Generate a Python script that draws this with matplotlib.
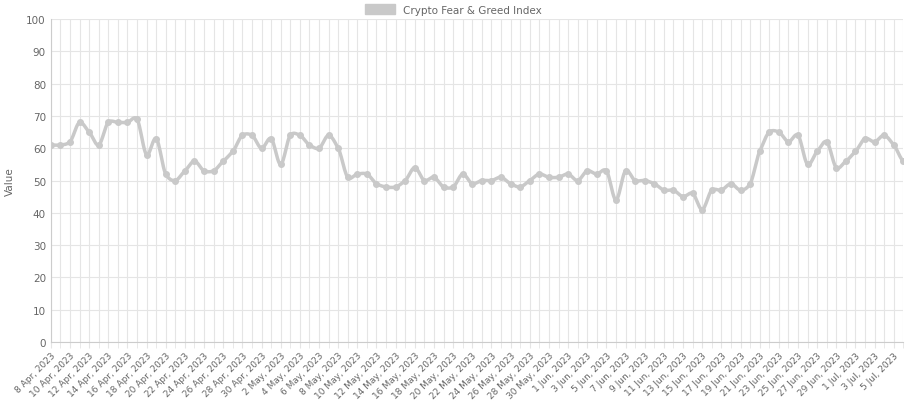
import matplotlib
matplotlib.use("Agg")
import matplotlib.pyplot as plt
import numpy as np
import pandas as pd
from matplotlib.patches import Patch

dates = pd.date_range("2023-04-08", "2023-07-06", freq="D")
values = [61,61,62,68,65,61,68,68,68,69,58,63,52,50,53,56,53,53,56,59,64,64,60,
          63,55,64,64,61,60,64,60,51,52,52,49,48,48,50,54,50,51,48,48,52,49,50,50,51,49,48,50,52,51,51,
          52,50,53,52,53,44,53,50,50,49,47,47,45,46,41,47,47,49,47,49,59,65,65,62,64,55,59,62,54,56,
          59,63,62,64,61,56]
labels = [f"{d.day} {d.strftime('%b')}, {d.year}" for d in dates]
series_name = "Crypto Fear & Greed Index"

x = np.arange(len(values))
y = np.array(values, float)
xs, ys = [], []
for i in range(len(x) - 1):
    p0 = y[max(i-1, 0)]; p1 = y[i]; p2 = y[i+1]; p3 = y[min(i+2, len(y)-1)]
    t = np.linspace(0, 1, 12, endpoint=False)
    tn = 0.8
    m1 = (p2 - p0) / 2 * tn; m2 = (p3 - p1) / 2 * tn
    h00 = 2*t**3 - 3*t**2 + 1; h10 = t**3 - 2*t**2 + t; h01 = -2*t**3 + 3*t**2; h11 = t**3 - t**2
    xs.extend(x[i] + t); ys.extend(h00*p1 + h10*m1 + h01*p2 + h11*m2)
xs.append(x[-1]); ys.append(y[-1])

fig = plt.figure(figsize=(9.07, 4.02), dpi=100)
ax = fig.add_axes([0.056, 0.147, 0.94, 0.803])
c = "#c9c9c9"
ax.plot(xs, ys, color=c, lw=2.5, solid_capstyle="round")
ax.plot(x, y, "o", color=c, ms=4)
ax.set_xlim(0, len(x) - 1)
ax.set_ylim(0, 100)
ax.set_yticks(range(0, 101, 10))
ax.set_xticks(x[::2])
ax.set_xticklabels(labels[::2], rotation=45, ha="right", rotation_mode="anchor", fontsize=6.5, color="#666")
ax.set_xticks(x, minor=True)
ax.tick_params(axis="y", labelsize=7.5, colors="#666", length=0)
ax.tick_params(axis="x", which="both", length=4, color="#e5e5e5", pad=2)
ax.grid(True, which="both", color="#e5e5e5", lw=0.8)
ax.set_axisbelow(True)
for s in ["top", "right"]:
    ax.spines[s].set_visible(False)
ax.spines["left"].set_color("#ccc")
ax.spines["bottom"].set_color("#ccc")
ax.set_ylabel("Value", fontsize=7.5, color="#666", labelpad=8)
fig.legend(handles=[Patch(facecolor=c, edgecolor=c)], labels=[series_name], loc="upper center",
           bbox_to_anchor=(0.5, 1.01), frameon=False, fontsize=7.5, handlelength=2.8, handleheight=1.0,
           labelcolor="#666")
fig.savefig("out.png", dpi=100)
